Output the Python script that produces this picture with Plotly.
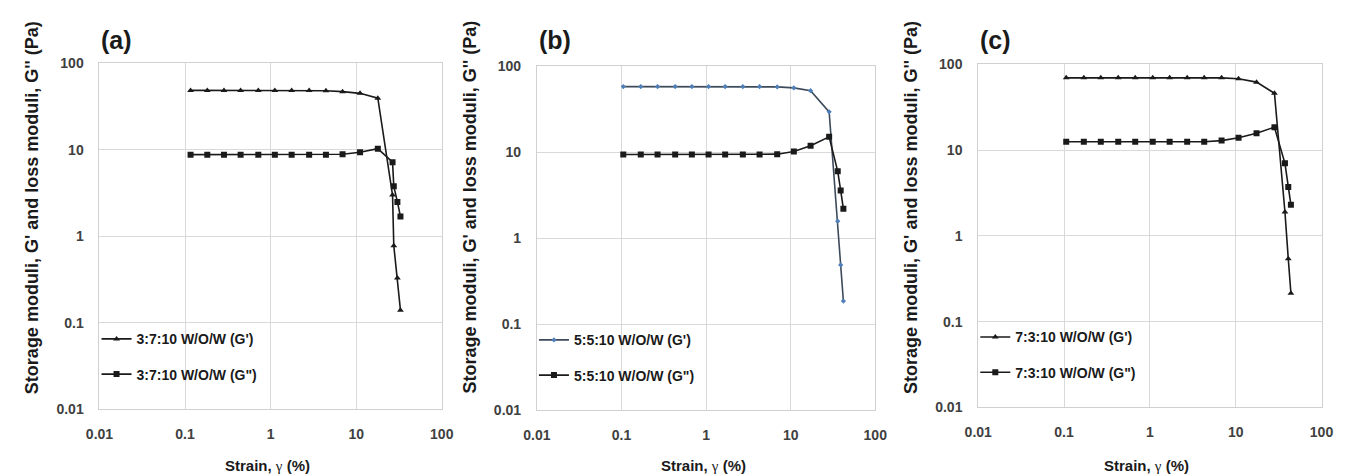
import plotly.graph_objects as go

# strain (%)
strain_a = [0.116, 0.182, 0.285, 0.446, 0.718, 1.12, 1.76, 2.82, 4.43, 6.93, 11.1, 17.9, 26.6, 27.5, 30.3, 32.9]
strain_b = [0.105, 0.169, 0.267, 0.431, 0.679, 1.07, 1.68, 2.72, 4.29, 6.93, 10.9, 17.2, 28.5, 36.0, 39.0, 42.0]
strain_c = [0.106, 0.170, 0.268, 0.428, 0.675, 1.08, 1.70, 2.72, 4.30, 6.85, 10.8, 17.5, 28.3, 37.5, 41.0, 44.0]

# G' and G'' (Pa)
g1_a = [48.7, 48.7, 48.7, 48.7, 48.7, 48.7, 48.5, 48.5, 48.2, 47.1, 45.0, 39.6, 3.0, 0.78, 0.33, 0.14]
g2_a = [8.8, 8.8, 8.8, 8.8, 8.8, 8.8, 8.8, 8.8, 8.8, 8.9, 9.4, 10.3, 7.2, 3.8, 2.5, 1.7]
g1_b = [58.0, 58.0, 58.0, 58.0, 58.0, 58.0, 58.0, 58.0, 58.0, 57.5, 56.0, 52.0, 29.5, 1.58, 0.49, 0.186]
g2_b = [9.4, 9.4, 9.4, 9.4, 9.4, 9.4, 9.4, 9.4, 9.4, 9.5, 10.2, 11.9, 15.1, 6.0, 3.6, 2.2]
g1_c = [69.5, 69.5, 69.5, 69.5, 69.5, 69.5, 69.5, 69.5, 69.5, 69.5, 68.0, 62.0, 46.0, 1.9, 0.54, 0.214]
g2_c = [12.5, 12.5, 12.5, 12.5, 12.5, 12.5, 12.5, 12.5, 12.5, 12.9, 13.9, 15.7, 18.5, 7.0, 3.7, 2.3]

samples = ["3:7:10", "5:5:10", "7:3:10"]
panel_labels = ["(a)", "(b)", "(c)"]
tick_vals = [0.01, 0.1, 1, 10, 100]
tick_text = ["0.01", "0.1", "1", "10", "100"]

W, H = 1351, 476
FONT = "'Liberation Sans', Arial, sans-serif"

# plot areas in pixels: left, right, top, bottom
boxes = [(79, 428, 49, 407), (525, 870, 52, 408), (975, 1325, 50, 405)]

panels = [
    (strain_a, g1_a, g2_a, "#1a1a1a", "#1a1a1a"),
    (strain_b, g1_b, g2_b, "#3c4a5a", "#4f7fb8"),
    (strain_c, g1_c, g2_c, "#1a1a1a", "#1a1a1a"),
]

fig = go.Figure()
layout = {}
annotations = []

for i, (x, g1, g2, lc, mc) in enumerate(panels):
    n = "" if i == 0 else str(i + 1)
    leg = "legend" + n
    fig.add_trace(go.Scatter(
        x=x, y=g1, mode="lines+markers", name=samples[i] + " W/O/W (G')",
        line=dict(color=lc, width=1.6),
        marker=dict(symbol="triangle-up" if i != 1 else "diamond", size=6 if i != 1 else 4, color=mc),
        xaxis="x" + n, yaxis="y" + n, legend=leg, legendgroup=leg + "a",
    ))
    fig.add_trace(go.Scatter(
        x=x, y=g2, mode="lines+markers", name=samples[i] + ' W/O/W (G")',
        line=dict(color="#1a1a1a", width=1.6),
        marker=dict(symbol="square", size=6, color="#1a1a1a"),
        xaxis="x" + n, yaxis="y" + n, legend=leg, legendgroup=leg + "b",
    ))

    l, r, t, b = boxes[i]
    ax = dict(
        type="log", range=[-2, 2], tickvals=tick_vals, ticktext=tick_text,
        showgrid=True, gridcolor="#d9d9d9", gridwidth=1,
        showline=True, linecolor="#d0d0d0", linewidth=1, mirror=True,
        zeroline=False, ticks="", ticklabelstandoff=12,
        tickfont=dict(family=FONT, size=14, color="#404040", weight="bold"),
    )
    layout["xaxis" + n] = dict(ax, domain=[l / W, r / W], anchor="y" + n)
    layout["yaxis" + n] = dict(ax, domain=[1 - b / H, 1 - t / H], anchor="x" + n)

    layout[leg] = dict(
        x=(l - 3) / W, y=1 - (b - 89) / H, xanchor="left", yanchor="top",
        bgcolor="rgba(0,0,0,0)", tracegroupgap=14, itemwidth=30,
        font=dict(family=FONT, size=14, color="#1a1a1a", weight="bold"),
    )

    annotations.append(dict(
        text="<b>" + panel_labels[i] + "</b>", x=l / W, y=1 - 25 / H,
        xref="paper", yref="paper", xanchor="left", yanchor="middle",
        showarrow=False, font=dict(family=FONT, size=25, color="#1a1a1a"),
    ))
    annotations.append(dict(
        text="<b>Storage moduli, G' and loss moduli, G'' (Pa)</b>",
        x=(l - 68) / W, y=1 - 198 / H, xref="paper", yref="paper",
        xanchor="center", yanchor="middle", textangle=-90, showarrow=False,
        font=dict(family=FONT, size=18, color="#1a1a1a"),
    ))
    annotations.append(dict(
        text="<b>Strain, </b><span style='font-family:Liberation Serif'>γ</span><b> (%)</b>",
        x=((l + r) / 2 - 3) / W, y=1 - 465 / H,
        xref="paper", yref="paper", xanchor="center", yanchor="middle",
        showarrow=False, font=dict(family=FONT, size=15, color="#1a1a1a"),
    ))

fig.update_layout(
    width=W, height=H,
    margin=dict(l=0, r=0, t=0, b=0),
    paper_bgcolor="white", plot_bgcolor="white",
    annotations=annotations,
    **layout,
)

fig.write_html("out.html")
